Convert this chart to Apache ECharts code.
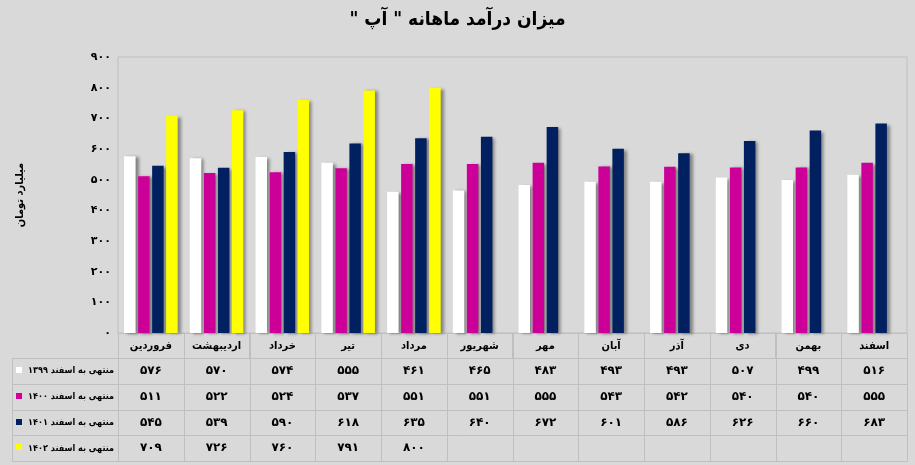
<!DOCTYPE html>
<html>
<head>
<meta charset="utf-8">
<script src="https://cdn.jsdelivr.net/npm/echarts@6/dist/echarts.min.js"></script>
<style>
html,body{margin:0;padding:0;background:#d9d9d9;}
#chart{width:915px;height:465px;}
</style>
</head>
<body>
<div id="chart"></div>
<script>
const titleText = 'میزان درآمد ماهانه " آپ "\u200F';
const yAxisName = 'میلیارد تومان';
const categories = ['فروردین','اردیبهشت','خرداد','تیر','مرداد','شهریور','مهر','آبان','آذر','دی','بهمن','اسفند'];
const seriesNames = ['منتهی به اسفند ۱۳۹۹','منتهی به اسفند ۱۴۰۰','منتهی به اسفند ۱۴۰۱','منتهی به اسفند ۱۴۰۲'];
const values1399 = [576,570,574,555,461,465,483,493,493,507,499,516];
const values1400 = [511,522,524,537,551,551,555,543,542,540,540,555];
const values1401 = [545,539,590,618,635,640,672,601,586,626,660,683];
const values1402 = [709,726,760,791,800,null,null,null,null,null,null,null];
const yTicks = [0,100,200,300,400,500,600,700,800,900];
const colors = ['#ffffff','#cc0099','#002060','#ffff00'];

const allValues = [values1399, values1400, values1401, values1402];
const FONT = '"DejaVu Sans", sans-serif';
const FONTC = '"DejaVu Sans Condensed", "DejaVu Sans", sans-serif';
function fa(n){ return String(n).replace(/\d/g, d => '۰۱۲۳۴۵۶۷۸۹'[d]); }

const chart = echarts.init(document.getElementById('chart'), null, {renderer:'canvas'});

const option = {
  backgroundColor: '#d9d9d9',
  animation: false,
  title: {
    text: titleText, left: 'center', top: 6,
    textStyle: {fontFamily: FONTC, fontSize: 19, fontWeight: 'bold', color: '#000'}
  },
  grid: {left: 118, right: 8, top: 57, bottom: 132, show: true, borderColor: '#bfbfbf', borderWidth: 1, backgroundColor: 'transparent'},
  xAxis: {
    type: 'category', data: categories,
    axisLine: {show: true, lineStyle: {color: '#bfbfbf'}},
    axisTick: {show: true, length: 25, lineStyle: {color: '#bfbfbf'}, interval: 0},
    axisLabel: {interval: 0, margin: 8, fontFamily: FONTC, fontSize: 11, fontWeight: 'bold', color: '#000'}
  },
  yAxis: {
    type: 'value', min: yTicks[0], max: yTicks[yTicks.length-1], interval: yTicks[1]-yTicks[0],
    name: yAxisName, nameLocation: 'middle', nameRotate: 90, nameGap: 92,
    nameTextStyle: {fontFamily: FONTC, fontSize: 11, fontWeight: 'bold', color: '#000'},
    axisLine: {show: false}, axisTick: {show: false}, splitLine: {show: false},
    axisLabel: {margin: 7, fontFamily: FONT, fontSize: 11, fontWeight: 'bold', color: '#000', formatter: v => fa(v)}
  },
  series: allValues.map((vals, k) => ({
    type: 'bar', name: seriesNames[k], data: vals,
    barWidth: 11.5, barGap: '22%',
    itemStyle: {color: colors[k], shadowColor: 'rgba(0,0,0,0.4)', shadowBlur: 3, shadowOffsetX: 3, shadowOffsetY: 1}
  }))
};
chart.setOption(option);

// Data table under the chart, positioned from the category axis
const c0 = chart.convertToPixel({xAxisIndex: 0}, 0);
const c1 = chart.convertToPixel({xAxisIndex: 0}, 1);
const bw = c1 - c0;
const leftEdge = c0 - bw / 2;
const rightEdge = leftEdge + bw * categories.length;
const yTop = chart.convertToPixel({yAxisIndex: 0}, 0);
const headerH = 25;
const rowH = 25.8;
const tableLeft = 12;
const lineStyle = {stroke: '#bfbfbf', lineWidth: 1};
const g = [];
for (let r = 0; r <= allValues.length; r++) {
  const y = Math.round(yTop + headerH + r * rowH) + 0.5;
  g.push({type: 'line', shape: {x1: tableLeft, y1: y, x2: rightEdge, y2: y}, style: lineStyle, silent: true});
}
const yEnd = Math.round(yTop + headerH + allValues.length * rowH) + 0.5;
for (let i = 0; i <= categories.length; i++) {
  const x = Math.round(leftEdge + i * bw) + 0.5;
  g.push({type: 'line', shape: {x1: x, y1: yTop, x2: x, y2: yEnd}, style: lineStyle, silent: true});
}
g.push({type: 'line', shape: {x1: tableLeft + 0.5, y1: Math.round(yTop + headerH) + 0.5, x2: tableLeft + 0.5, y2: yEnd}, style: lineStyle, silent: true});
allValues.forEach((vals, k) => {
  const cy = yTop + headerH + (k + 0.5) * rowH;
  g.push({type: 'rect', shape: {x: 16, y: Math.round(cy) - 4, width: 6, height: 6}, style: {fill: colors[k]}, silent: true});
  g.push({type: 'text', style: {text: seriesNames[k], x: leftEdge - 4, y: cy, align: 'right', verticalAlign: 'middle', font: 'bold 9px ' + FONTC, fill: '#000'}, silent: true});
  vals.forEach((v, i) => {
    if (v === null) return;
    g.push({type: 'text', style: {text: fa(v), x: leftEdge + (i + 0.5) * bw, y: cy, align: 'center', verticalAlign: 'middle', font: 'bold 12px ' + FONT, fill: '#000'}, silent: true});
  });
});
chart.setOption({graphic: {elements: g}});
</script>
</body>
</html>
